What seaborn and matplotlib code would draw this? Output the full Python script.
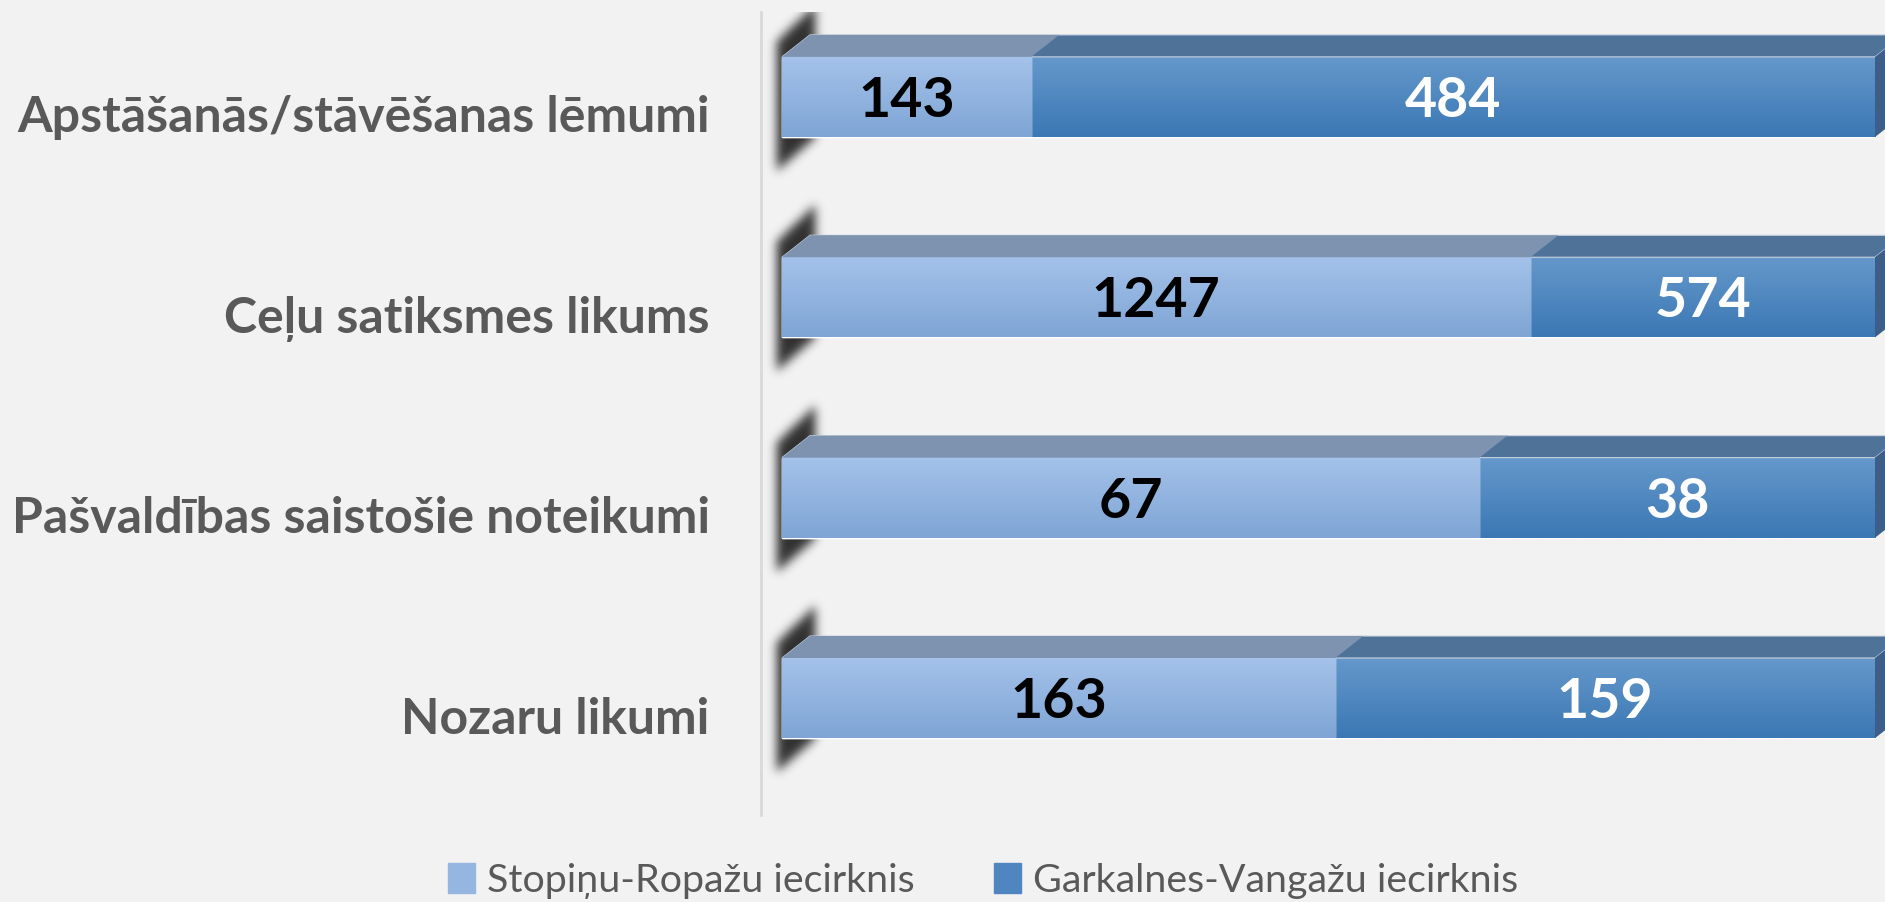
import numpy as np
import pandas as pd
import matplotlib
matplotlib.use('Agg')
import matplotlib.pyplot as plt
import seaborn as sns
from matplotlib.patches import Polygon, Patch
from matplotlib.colors import to_rgb
from matplotlib.transforms import ScaledTranslation

# data
categories = ['Apstāšanās/stāvēšanas lēmumi', 'Ceļu satiksmes likums',
              'Pašvaldības saistošie noteikumi', 'Nozaru likumi']
stopini = [143, 1247, 67, 163]      # Stopiņu-Ropažu iecirknis
garkalne = [484, 574, 38, 159]      # Garkalnes-Vangažu iecirknis
series_names = ['Stopiņu-Ropažu iecirknis', 'Garkalnes-Vangažu iecirknis']

df = pd.DataFrame({'kategorija': categories, 's': stopini, 'g': garkalne})
df['total'] = df['s'] + df['g']
df['s_pct'] = df['s'] / df['total'] * 100
df['full'] = 100.0

sns.set_theme(style='white')
plt.rcParams['font.family'] = ['Lato', 'DejaVu Sans']

bg = '#F2F2F2'
light_top, light_bot = '#A4C2EA', '#7FA5D5'
dark_top, dark_bot = '#6598CB', '#3B78B4'

fig = plt.figure(figsize=(18.85, 9.02), dpi=100, facecolor=bg)
ax = fig.add_axes([761 / 1885, 87 / 902, 1124 / 1885, 803 / 902])
ax.set_facecolor(bg)

# 100% stacked: dark bar full length, light share on top of it
sns.barplot(data=df, y='kategorija', x='full', orient='h', color=dark_bot,
            width=0.4, errorbar=None, ax=ax, zorder=2)
sns.barplot(data=df, y='kategorija', x='s_pct', orient='h', color=light_bot,
            width=0.4, errorbar=None, ax=ax, zorder=4)

xlim = (-21 / 10.93, 100 + 10 / 10.93)
ylim = (3 + 117 / 200.5, -85 / 200.5)
px_x = 100 / 1093   # data units per pixel
px_y = 1 / 200.5
dx, dy = 28 * px_x, 22 * px_y

def grad(c1, c2, n=64):
    t = np.linspace(0, 1, n)[:, None]
    a, b = np.array(to_rgb(c1)), np.array(to_rgb(c2))
    return (a * (1 - t) + b * t)[:, None, :]

patches = list(ax.patches)
dark_p, light_p = patches[:4], patches[4:]

# soft shadow behind the left end
gx = np.arange(-25, 55)
gy = np.arange(-75, 135)
GX, GY = np.meshgrid(gx, gy)
top_e = -16 + (GX + 5) * (-36 / 38)
bot_e = 114 + (GX + 5) * (-33 / 38)
mask = ((GX >= -5) & (GX <= 33) & (GY >= top_e) & (GY <= bot_e)).astype(float)
k = np.exp(-0.5 * (np.arange(-15, 16) / 5.0) ** 2)
k /= k.sum()
mask = np.apply_along_axis(lambda r: np.convolve(r, k, mode='same'), 1, mask)
mask = np.apply_along_axis(lambda c: np.convolve(c, k, mode='same'), 0, mask)
shadow = np.zeros(mask.shape + (4,))
shadow[..., 3] = mask * 0.8

for i, (pd_, pl) in enumerate(zip(dark_p, light_p)):
    y0, h = pl.get_y(), pl.get_height()
    xs = pl.get_width()
    ax.imshow(shadow, extent=(gx[0] * px_x, gx[-1] * px_x,
                              y0 + gy[-1] * px_y, y0 + gy[0] * px_y),
              aspect='auto', zorder=1.5, interpolation='bilinear')
    ax.imshow(grad(dark_top, dark_bot), extent=(0, 100, y0 + h, y0),
              aspect='auto', zorder=2.5, interpolation='bilinear')
    ax.imshow(grad(light_top, light_bot), extent=(0, xs, y0 + h, y0),
              aspect='auto', zorder=4.5, interpolation='bilinear')
    # top faces and right side
    ax.add_patch(Polygon([(0, y0), (100, y0), (100 + dx, y0 - dy), (dx, y0 - dy)],
                         closed=True, fc='#4F7298', ec='#C9D3DF', lw=0.8, zorder=2.6))
    ax.add_patch(Polygon([(0, y0), (xs, y0), (xs + dx, y0 - dy), (dx, y0 - dy)],
                         closed=True, fc='#7D93B0', ec='none', zorder=4.6))
    ax.add_patch(Polygon([(100, y0), (100 + dx, y0 - dy), (100 + dx, y0 + h - dy), (100, y0 + h)],
                         closed=True, fc='#3D5E86', ec='none', zorder=2.6))
    yc = y0 + h / 2 + 4 * px_y
    ax.text(xs / 2, yc, str(stopini[i]), ha='center', va='center',
            fontsize=40, fontweight='bold', color='black', zorder=6)
    ax.text((xs + 100) / 2, yc, str(garkalne[i]), ha='center', va='center',
            fontsize=40, fontweight='bold', color='white', zorder=6)

ax.set_xlim(xlim)
ax.set_ylim(ylim)
ax.set_xlabel('')
ax.set_ylabel('')
ax.set_xticks([])
ax.tick_params(axis='y', length=0, pad=37)
for lab in ax.get_yticklabels():
    lab.set_fontsize(36)
    lab.set_fontweight('bold')
    lab.set_color('#595959')
    lab.set_transform(lab.get_transform() + ScaledTranslation(0, -0.17, fig.dpi_scale_trans))

for s in ['top', 'right', 'bottom']:
    ax.spines[s].set_visible(False)
ax.spines['left'].set_color('#D9D9D9')
ax.spines['left'].set_linewidth(2)

handles = [Patch(color='#94B6E0'), Patch(color='#4F86C0')]
fig.legend(handles, series_names, loc='center', bbox_to_anchor=(0.5215, 21 / 902),
           ncol=2, frameon=False, labelcolor='#595959',
           handlelength=0.7, handleheight=0.8, handletextpad=0.3, columnspacing=2.0,
           prop={'family': ['Lato', 'DejaVu Sans'], 'size': 28.4})

fig.savefig('out.png', dpi=100, facecolor=bg)
